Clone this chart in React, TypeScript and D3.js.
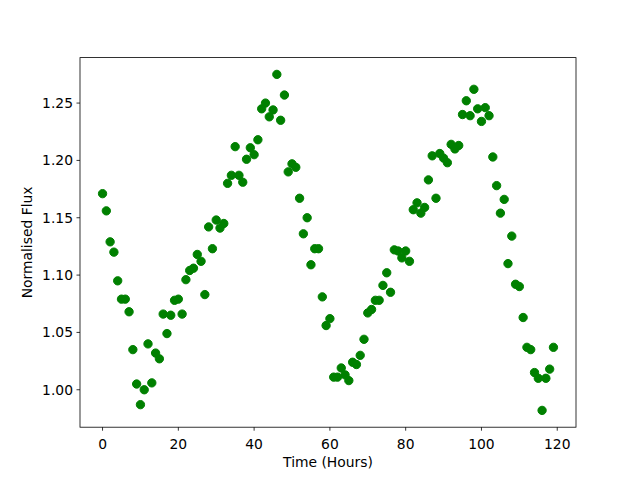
import React from 'react';
import * as d3 from 'd3';

// hourly samples, hour 0..119
const hours: number[] = d3.range(0, 120);
const flux: number[] = [
  1.171, 1.156, 1.129, 1.120, 1.095, 1.079, 1.079, 1.068, 1.035, 1.005,
  0.987, 1.000, 1.040, 1.006, 1.032, 1.027, 1.066, 1.049, 1.065, 1.078,
  1.079, 1.066, 1.096, 1.104, 1.106, 1.118, 1.112, 1.083, 1.142, 1.123,
  1.148, 1.141, 1.145, 1.180, 1.187, 1.212, 1.187, 1.181, 1.201, 1.211,
  1.205, 1.218, 1.245, 1.250, 1.238, 1.244, 1.275, 1.235, 1.257, 1.190,
  1.197, 1.194, 1.167, 1.136, 1.150, 1.109, 1.123, 1.123, 1.081, 1.056,
  1.062, 1.011, 1.011, 1.019, 1.013, 1.008, 1.024, 1.022, 1.030, 1.044,
  1.067, 1.070, 1.078, 1.078, 1.091, 1.102, 1.085, 1.122, 1.121, 1.115,
  1.121, 1.112, 1.157, 1.163, 1.154, 1.159, 1.183, 1.204, 1.167, 1.206,
  1.202, 1.198, 1.214, 1.210, 1.213, 1.240, 1.252, 1.239, 1.262, 1.245,
  1.234, 1.246, 1.239, 1.203, 1.178, 1.154, 1.166, 1.110, 1.134, 1.092,
  1.090, 1.063, 1.037, 1.035, 1.015, 1.010, 0.982, 1.010, 1.018, 1.037,
];
const xTicks = [0, 20, 40, 60, 80, 100, 120];
const yTicks = [1.0, 1.05, 1.1, 1.15, 1.2, 1.25];

const W = 640;
const H = 480;
const left = 80, right = 576, top = 57.6, bottom = 427.2;
const font = '"DejaVu Sans", sans-serif';

const pad = (lo: number, hi: number) => {
  const m = (hi - lo) * 0.05;
  return [lo - m, hi + m];
};

const App: React.FC = () => {
  const x = d3.scaleLinear().domain(pad(d3.min(hours)!, d3.max(hours)!)).range([left, right]);
  const y = d3.scaleLinear().domain(pad(d3.min(flux)!, d3.max(flux)!)).range([bottom, top]);

  return (
    <svg width={W} height={H} style={{ position: 'absolute', left: 0, top: 0, background: '#fff' }} fontFamily={font}>
      <rect x={0} y={0} width={W} height={H} fill="#fff" />
      {hours.map((h, i) => (
        <circle key={i} cx={x(h)} cy={y(flux[i])} r={4.17} fill="#008000" stroke="#008000" strokeWidth={1} />
      ))}
      <rect x={left} y={top} width={right - left} height={bottom - top} fill="none" stroke="#000" strokeWidth={0.8} />
      {xTicks.map((t) => (
        <g key={t}>
          <line x1={x(t)} x2={x(t)} y1={bottom} y2={bottom + 3.5} stroke="#000" strokeWidth={0.8} />
          <text x={x(t)} y={448.5} fontSize={13.89} textAnchor="middle" fill="#000">{t}</text>
        </g>
      ))}
      {yTicks.map((t) => (
        <g key={t}>
          <line x1={left - 3.5} x2={left} y1={y(t)} y2={y(t)} stroke="#000" strokeWidth={0.8} />
          <text x={73} y={y(t)} dy="0.36em" fontSize={13.89} textAnchor="end" fill="#000">{t.toFixed(2)}</text>
        </g>
      ))}
      <text x={(left + right) / 2} y={467} fontSize={13.89} textAnchor="middle" fill="#000">Time (Hours)</text>
      <text transform={`translate(31.5, ${(top + bottom) / 2}) rotate(-90)`} fontSize={13.89} textAnchor="middle" fill="#000">Normalised Flux</text>
    </svg>
  );
};

export default App;
